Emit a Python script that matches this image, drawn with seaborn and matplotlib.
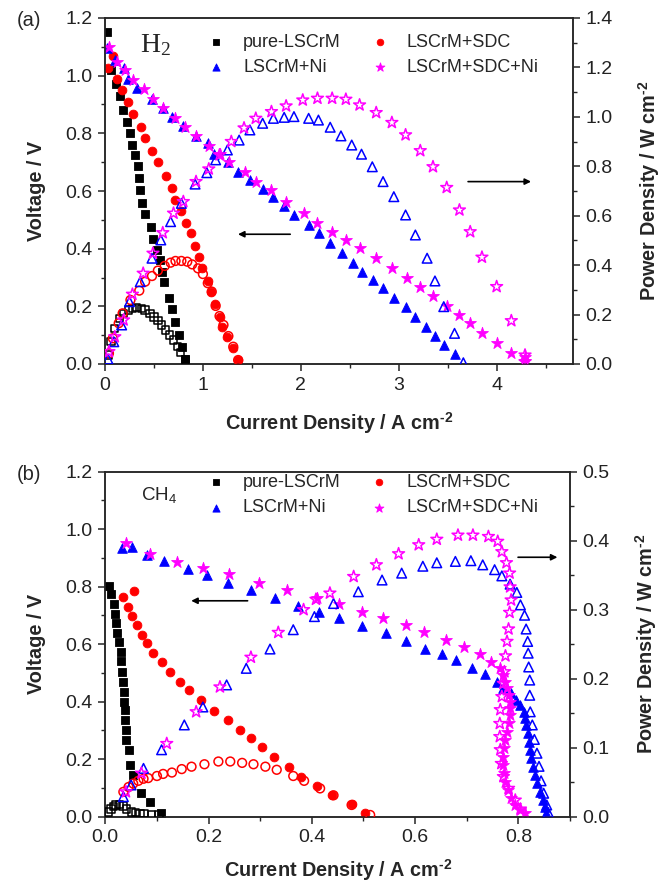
import numpy as np
import matplotlib
matplotlib.use("Agg")
import matplotlib.pyplot as plt
from matplotlib.ticker import MultipleLocator, FormatStrFormatter
import seaborn as sns

# ---- panel (a): H2 fuel ----
a_pure_vi = [0.02, 0.06, 0.11, 0.15, 0.18, 0.22, 0.26, 0.28, 0.31, 0.34, 0.35, 0.36, 0.38, 0.41, 0.47,
             0.49, 0.53, 0.56, 0.58, 0.60, 0.65, 0.68, 0.72, 0.76, 0.79, 0.82]
a_pure_v = [1.15, 1.02, 0.97, 0.93, 0.88, 0.84, 0.80, 0.76, 0.725, 0.685, 0.645, 0.605, 0.56, 0.52, 0.476,
            0.433, 0.395, 0.36, 0.32, 0.285, 0.23, 0.19, 0.145, 0.10, 0.06, 0.016]
a_pure_pi = [0.03, 0.06, 0.10, 0.15, 0.19, 0.24, 0.28, 0.32, 0.37, 0.41, 0.46, 0.50, 0.54, 0.58, 0.62,
             0.66, 0.70, 0.74, 0.77, 0.82]
a_pure_p = [0.036, 0.09, 0.144, 0.185, 0.205, 0.218, 0.225, 0.228, 0.225, 0.218, 0.205, 0.19, 0.175, 0.158,
            0.138, 0.117, 0.097, 0.07, 0.046, 0.016]

a_sdc_vi = [0.03, 0.08, 0.12, 0.17, 0.23, 0.29, 0.37, 0.41, 0.48, 0.54, 0.62, 0.68, 0.72, 0.78, 0.83, 0.88,
            0.92, 0.96, 0.99, 1.05, 1.08, 1.12, 1.17, 1.20, 1.25, 1.31, 1.36]
a_sdc_v = [1.026, 1.068, 0.99, 0.95, 0.908, 0.866, 0.823, 0.785, 0.74, 0.70, 0.653, 0.61, 0.57, 0.532, 0.49,
           0.453, 0.41, 0.372, 0.332, 0.288, 0.25, 0.208, 0.164, 0.13, 0.093, 0.054, 0.014]
a_sdc_pi = [0.04, 0.08, 0.14, 0.18, 0.26, 0.35, 0.41, 0.48, 0.54, 0.61, 0.67, 0.72, 0.78, 0.84, 0.89, 0.95,
            1.00, 1.05, 1.09, 1.13, 1.17, 1.21, 1.26, 1.31, 1.36]
a_sdc_p = [0.043, 0.104, 0.165, 0.205, 0.259, 0.297, 0.333, 0.356, 0.378, 0.397, 0.41, 0.417, 0.417, 0.414,
           0.403, 0.387, 0.364, 0.327, 0.293, 0.235, 0.194, 0.158, 0.113, 0.07, 0.016]

a_ni_vi = [0.02, 0.10, 0.19, 0.24, 0.33, 0.48, 0.59, 0.68, 0.80, 0.93, 1.05, 1.11, 1.26, 1.36, 1.48, 1.61,
           1.72, 1.83, 1.93, 2.08, 2.19, 2.30, 2.42, 2.53, 2.63, 2.74, 2.84, 2.95, 3.07, 3.17, 3.28, 3.37,
           3.46, 3.57]
a_ni_v = [1.095, 1.054, 1.026, 0.99, 0.956, 0.92, 0.887, 0.858, 0.825, 0.79, 0.765, 0.73, 0.70, 0.667, 0.638,
          0.606, 0.578, 0.548, 0.517, 0.482, 0.453, 0.419, 0.384, 0.349, 0.32, 0.291, 0.263, 0.228, 0.197,
          0.164, 0.13, 0.097, 0.066, 0.035]
a_ni_pi = [0.03, 0.09, 0.17, 0.25, 0.36, 0.48, 0.57, 0.67, 0.78, 0.92, 1.04, 1.13, 1.25, 1.37, 1.48, 1.61,
           1.72, 1.83, 1.93, 2.08, 2.18, 2.30, 2.41, 2.52, 2.62, 2.73, 2.84, 2.95, 3.07, 3.17, 3.29, 3.37,
           3.46, 3.57, 3.66]
a_ni_p = [0.02, 0.09, 0.158, 0.252, 0.333, 0.428, 0.502, 0.576, 0.65, 0.728, 0.774, 0.826, 0.866, 0.906,
          0.947, 0.974, 0.994, 0.998, 1.001, 0.994, 0.987, 0.958, 0.923, 0.886, 0.849, 0.798, 0.738, 0.677,
          0.603, 0.522, 0.428, 0.336, 0.232, 0.124, 0.005]

a_sdcni_vi = [0.04, 0.12, 0.20, 0.29, 0.40, 0.49, 0.59, 0.71, 0.82, 0.93, 1.06, 1.17, 1.27, 1.43, 1.54, 1.70,
              1.85, 2.03, 2.17, 2.32, 2.46, 2.60, 2.77, 2.93, 3.08, 3.22, 3.35, 3.49, 3.62, 3.73, 3.85, 4.00,
              4.15, 4.29, 4.29]
a_sdcni_v = [1.10, 1.049, 1.02, 0.985, 0.953, 0.918, 0.887, 0.852, 0.823, 0.79, 0.757, 0.728, 0.70, 0.667,
             0.632, 0.604, 0.563, 0.525, 0.49, 0.457, 0.43, 0.403, 0.366, 0.332, 0.297, 0.266, 0.236, 0.201,
             0.17, 0.141, 0.109, 0.074, 0.037, 0.025, 0.01]
a_sdcni_pi = [0.04, 0.10, 0.19, 0.28, 0.39, 0.49, 0.59, 0.70, 0.80, 0.93, 1.06, 1.17, 1.29, 1.42, 1.54, 1.70,
              1.85, 2.02, 2.17, 2.32, 2.46, 2.60, 2.77, 2.93, 3.07, 3.22, 3.35, 3.49, 3.62, 3.73, 3.85, 4.00,
              4.15, 4.29, 4.29]
a_sdcni_p = [0.05, 0.11, 0.178, 0.282, 0.367, 0.448, 0.531, 0.61, 0.657, 0.738, 0.789, 0.846, 0.90, 0.955,
             0.994, 1.021, 1.044, 1.068, 1.075, 1.075, 1.071, 1.048, 1.017, 0.977, 0.927, 0.863, 0.798, 0.714,
             0.623, 0.535, 0.432, 0.313, 0.175, 0.036, 0.009]

# ---- panel (b): CH4 fuel ----
b_pure_vi = [0.007, 0.011, 0.016, 0.019, 0.021, 0.023, 0.027, 0.030, 0.031, 0.032, 0.034, 0.036, 0.037,
             0.039, 0.039, 0.040, 0.041, 0.045, 0.048, 0.054, 0.070, 0.087, 0.108]
b_pure_v = [0.802, 0.775, 0.74, 0.705, 0.673, 0.64, 0.609, 0.574, 0.54, 0.504, 0.467, 0.433, 0.40, 0.371,
            0.336, 0.30, 0.267, 0.232, 0.18, 0.145, 0.081, 0.05, 0.012]
b_pure_pi = [0.006, 0.011, 0.016, 0.021, 0.027, 0.034, 0.041, 0.051, 0.059, 0.067, 0.075, 0.090, 0.104]
b_pure_p = [0.007, 0.011, 0.0145, 0.017, 0.018, 0.0155, 0.011, 0.007, 0.006, 0.005, 0.005, 0.003, 0.003]

b_sdc_vi = [0.034, 0.043, 0.051, 0.056, 0.061, 0.071, 0.080, 0.093, 0.109, 0.125, 0.145, 0.163, 0.185,
            0.211, 0.237, 0.260, 0.282, 0.303, 0.327, 0.355, 0.379, 0.410, 0.440, 0.477, 0.503]
b_sdc_v = [0.765, 0.73, 0.698, 0.785, 0.667, 0.632, 0.603, 0.570, 0.537, 0.504, 0.47, 0.44, 0.406, 0.369,
           0.336, 0.30, 0.273, 0.241, 0.209, 0.172, 0.139, 0.107, 0.075, 0.044, 0.014]
b_sdc_pi = [0.035, 0.045, 0.054, 0.064, 0.074, 0.083, 0.100, 0.112, 0.129, 0.148, 0.167, 0.192, 0.219,
            0.242, 0.265, 0.287, 0.310, 0.332, 0.364, 0.385, 0.416, 0.442, 0.477, 0.513]
b_sdc_p = [0.036, 0.043, 0.048, 0.052, 0.055, 0.056, 0.059, 0.062, 0.064, 0.069, 0.0725, 0.076, 0.080,
           0.080, 0.078, 0.076, 0.0725, 0.068, 0.059, 0.052, 0.041, 0.031, 0.017, 0.0025]

b_ni_vi = [0.032, 0.052, 0.080, 0.114, 0.161, 0.196, 0.238, 0.282, 0.329, 0.373, 0.413, 0.452, 0.497, 0.544,
           0.583, 0.619, 0.652, 0.680, 0.711, 0.735, 0.759, 0.771, 0.786, 0.796, 0.804, 0.810, 0.813, 0.815,
           0.818, 0.820, 0.822, 0.824, 0.828, 0.833, 0.837, 0.842, 0.847, 0.851, 0.853]
b_ni_v = [0.934, 0.939, 0.912, 0.89, 0.862, 0.84, 0.814, 0.789, 0.76, 0.734, 0.713, 0.69, 0.664, 0.64, 0.612,
          0.585, 0.567, 0.545, 0.516, 0.496, 0.47, 0.447, 0.429, 0.406, 0.389, 0.365, 0.342, 0.319, 0.29,
          0.261, 0.232, 0.203, 0.174, 0.145, 0.116, 0.087, 0.058, 0.035, 0.012]
b_ni_pi = [0.035, 0.050, 0.074, 0.109, 0.153, 0.189, 0.235, 0.273, 0.319, 0.364, 0.405, 0.442, 0.490, 0.536,
           0.574, 0.615, 0.642, 0.678, 0.708, 0.731, 0.754, 0.768, 0.784, 0.797, 0.804, 0.812, 0.815, 0.818,
           0.819, 0.820, 0.822, 0.822, 0.823, 0.827, 0.831, 0.836, 0.840, 0.844, 0.849, 0.855, 0.858]
b_ni_p = [0.029, 0.046, 0.070, 0.097, 0.133, 0.159, 0.191, 0.215, 0.243, 0.271, 0.29, 0.309, 0.326, 0.343,
          0.353, 0.363, 0.368, 0.370, 0.371, 0.365, 0.358, 0.349, 0.337, 0.325, 0.307, 0.292, 0.272, 0.254,
          0.237, 0.217, 0.198, 0.176, 0.152, 0.133, 0.112, 0.092, 0.073, 0.052, 0.034, 0.017, 0.006]

b_sdcni_vi = [0.040, 0.087, 0.138, 0.190, 0.240, 0.298, 0.352, 0.410, 0.453, 0.497, 0.538, 0.583, 0.618,
              0.660, 0.694, 0.726, 0.747, 0.765, 0.771, 0.775, 0.778, 0.781, 0.783, 0.784, 0.783, 0.781,
              0.778, 0.775, 0.773, 0.771, 0.771, 0.773, 0.775, 0.779, 0.786, 0.794, 0.804, 0.813]
b_sdcni_v = [0.951, 0.913, 0.887, 0.866, 0.843, 0.814, 0.789, 0.762, 0.739, 0.713, 0.69, 0.667, 0.644, 0.615,
             0.591, 0.565, 0.539, 0.516, 0.493, 0.47, 0.447, 0.423, 0.40, 0.377, 0.354, 0.325, 0.296, 0.267,
             0.238, 0.209, 0.18, 0.151, 0.122, 0.093, 0.064, 0.041, 0.023, 0.012]
b_sdcni_pi = [0.040, 0.070, 0.119, 0.176, 0.222, 0.282, 0.335, 0.384, 0.408, 0.435, 0.481, 0.525, 0.568,
              0.607, 0.642, 0.683, 0.712, 0.742, 0.760, 0.768, 0.777, 0.783, 0.784, 0.786, 0.783, 0.781,
              0.778, 0.775, 0.773, 0.771, 0.768, 0.765, 0.764, 0.764, 0.765, 0.767, 0.771, 0.781, 0.794, 0.804]
b_sdcni_p = [0.036, 0.063, 0.106, 0.152, 0.188, 0.231, 0.267, 0.30, 0.315, 0.324, 0.348, 0.365, 0.381,
             0.394, 0.402, 0.408, 0.408, 0.406, 0.399, 0.384, 0.368, 0.353, 0.333, 0.314, 0.296, 0.272,
             0.254, 0.233, 0.21, 0.193, 0.174, 0.155, 0.135, 0.116, 0.097, 0.077, 0.058, 0.041, 0.024, 0.011]

labels = ["pure-LSCrM", "LSCrM+SDC", "LSCrM+Ni", "LSCrM+SDC+Ni"]
colors = ["#000000", "#ff0000", "#0000ff", "#ff00ff"]
markers = ["s", "o", "^", "*"]
sizes = [28, 40, 48, 80]

sns.set_style("ticks")
plt.rcParams["font.family"] = ["Liberation Sans", "DejaVu Sans"]
plt.rcParams["mathtext.fontset"] = "custom"
plt.rcParams["mathtext.rm"] = "Liberation Sans:bold"   # only used by the \text{-2} superscripts
plt.rcParams["mathtext.default"] = "regular"
plt.rcParams["axes.unicode_minus"] = False
plt.rcParams["axes.linewidth"] = 1.1

fig = plt.figure(figsize=(6.64, 8.83), dpi=100)

xlab = r"Current Density / A cm$^{\text{-2}}$"
plab = r"Power Density / W cm$^{\text{-2}}$"


def draw_panel(ax, vdata, pdata, xlim, pmax, xmaj, pmaj, leg_y, xpad):
    ax2 = ax.twinx()
    for k, ((vi, v), (pi, p)) in enumerate(zip(vdata, pdata)):
        sns.scatterplot(x=vi, y=v, ax=ax, marker=markers[k], s=sizes[k], color=colors[k],
                        edgecolor=colors[k], linewidth=0.6, label=labels[k], legend=False, zorder=3)
        sns.scatterplot(x=pi, y=p, ax=ax2, marker=markers[k], s=sizes[k], color=colors[k],
                        facecolor="none", edgecolor=colors[k], linewidth=1.1, legend=False, zorder=3)
    ax.set_xlim(*xlim)
    ax.set_ylim(0, 1.2)
    ax2.set_ylim(0, pmax)
    ax.xaxis.set_major_locator(MultipleLocator(xmaj))
    ax.xaxis.set_minor_locator(MultipleLocator(xmaj / 2))
    ax.yaxis.set_major_locator(MultipleLocator(0.2))
    ax.yaxis.set_minor_locator(MultipleLocator(0.1))
    ax2.yaxis.set_major_locator(MultipleLocator(pmaj))
    ax2.yaxis.set_minor_locator(MultipleLocator(pmaj / 2))
    ax.yaxis.set_major_formatter(FormatStrFormatter("%.1f"))
    ax2.yaxis.set_major_formatter(FormatStrFormatter("%.1f"))
    for a in (ax, ax2):
        a.tick_params(which="major", direction="out", length=5, width=1.1, labelsize=14,
                      labelcolor="#222222", pad=4)
        a.tick_params(which="minor", direction="out", length=3, width=1.0)
        for sp in a.spines.values():
            sp.set_visible(True)
            sp.set_linewidth(1.1)
    ax.set_ylabel("Voltage / V", fontsize=14.3, fontweight="bold", labelpad=14)
    ax2.set_ylabel(plab, fontsize=14.3, fontweight="bold", labelpad=17)
    ax.set_xlabel(xlab, fontsize=14.3, fontweight="bold", labelpad=xpad)
    h, l = ax.get_legend_handles_labels()
    order = [0, 2, 1, 3]
    ax.legend([h[i] for i in order], [l[i] for i in order], ncol=2, frameon=False, fontsize=13,
              loc="upper left", bbox_to_anchor=(0.222, leg_y), borderaxespad=0, borderpad=0,
              handlelength=0.8, handletextpad=1.1, columnspacing=1.75, labelspacing=0.45,
              markerscale=0.75, scatterpoints=1)
    return ax2


# panel (a)
ax_a = fig.add_axes([105 / 664, 1 - 364 / 883, 468 / 664, 346 / 883])
ax_a2 = draw_panel(ax_a,
                   [(a_pure_vi, a_pure_v), (a_sdc_vi, a_sdc_v), (a_ni_vi, a_ni_v), (a_sdcni_vi, a_sdcni_v)],
                   [(a_pure_pi, a_pure_p), (a_sdc_pi, a_sdc_p), (a_ni_pi, a_ni_p), (a_sdcni_pi, a_sdcni_p)],
                   (0, 4.78), 1.4, 1, 0.2, 0.955, 12)
ax_a.set_xticks([0, 1, 2, 3, 4])
ax_a.xaxis.set_major_formatter(FormatStrFormatter("%d"))
ax_a.text(0.36, 1.105, "H$_2$", fontsize=20, family="Liberation Serif", va="center", ha="left")
ax_a.annotate("", xy=(1.33, 0.45), xytext=(1.92, 0.45),
              arrowprops=dict(arrowstyle="-|>", color="k", lw=1.2, mutation_scale=9))
ax_a2.annotate("", xy=(4.38, 0.738), xytext=(3.68, 0.738),
               arrowprops=dict(arrowstyle="-|>", color="k", lw=1.2, mutation_scale=9))
fig.text(17 / 664, 1 - 20 / 883, "(a)", fontsize=14.5, va="center", ha="left")

# panel (b)
ax_b = fig.add_axes([105.3 / 664, 1 - 816.7 / 883, 464.7 / 664, 345 / 883])
ax_b2 = draw_panel(ax_b,
                   [(b_pure_vi, b_pure_v), (b_sdc_vi, b_sdc_v), (b_ni_vi, b_ni_v), (b_sdcni_vi, b_sdcni_v)],
                   [(b_pure_pi, b_pure_p), (b_sdc_pi, b_sdc_p), (b_ni_pi, b_ni_p), (b_sdcni_pi, b_sdcni_p)],
                   (0, 0.9), 0.5, 0.2, 0.1, 0.993, 8)
ax_b.set_xticks([0.0, 0.2, 0.4, 0.6, 0.8])
ax_b.xaxis.set_major_formatter(FormatStrFormatter("%.1f"))
ax_b.text(0.07, 1.12, "CH$_4$", fontsize=13.5, va="center", ha="left")
ax_b.annotate("", xy=(0.161, 0.751), xytext=(0.281, 0.751),
              arrowprops=dict(arrowstyle="-|>", color="k", lw=1.2, mutation_scale=9))
ax_b2.annotate("", xy=(0.881, 0.376), xytext=(0.794, 0.376),
               arrowprops=dict(arrowstyle="-|>", color="k", lw=1.2, mutation_scale=9))
fig.text(17 / 664, 1 - 475 / 883, "(b)", fontsize=14.5, va="center", ha="left")

fig.savefig("out.png", dpi=100)
